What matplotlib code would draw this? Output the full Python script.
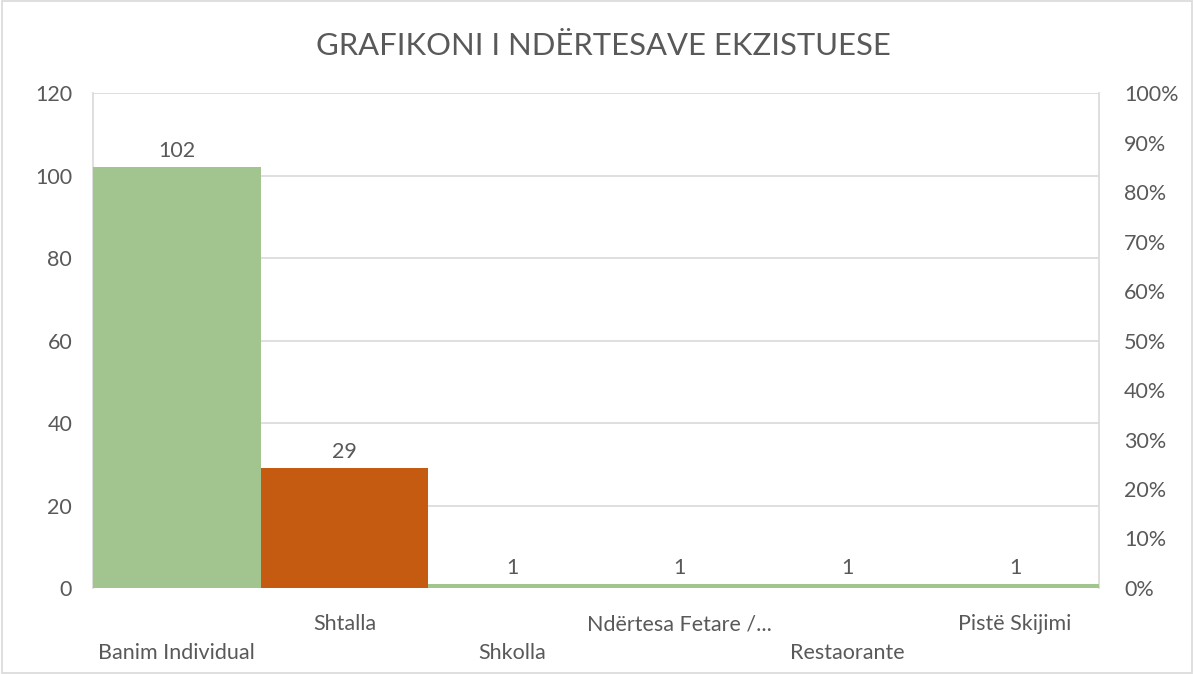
import matplotlib
matplotlib.use("Agg")
import matplotlib.pyplot as plt
from matplotlib.patches import Rectangle

categories = ["Banim Individual", "Shtalla", "Shkolla", "Ndërtesa Fetare /...", "Restaorante", "Pistë Skijimi"]
values = [102, 29, 1, 1, 1, 1]
bar_colors = ["#A2C48F", "#C55A11", "#A2C48F", "#A2C48F", "#A2C48F", "#A2C48F"]
left_ticks = [0, 20, 40, 60, 80, 100, 120]
right_ticks = [0, 10, 20, 30, 40, 50, 60, 70, 80, 90, 100]

plt.rcParams['font.family'] = ['Lato', 'DejaVu Sans']
txt = "#595959"
fs = 15.5

fig = plt.figure(figsize=(11.94, 6.74), dpi=100)
fig.patches.append(Rectangle((0.002, 0.002), 0.996, 0.996, transform=fig.transFigure,
                             fill=False, edgecolor="#D9D9D9", linewidth=1.2))
ax = fig.add_axes([0.0779, 0.1276, 0.8425, 0.7344])
x = list(range(len(categories)))
ax.bar(x, values, width=1.0, color=bar_colors, zorder=3)
for xi, v in zip(x, values):
    ax.text(xi, v + 1.5, str(v), ha="center", va="bottom", fontsize=fs, color=txt)

ax.set_xlim(-0.5, len(categories) - 0.5)
ax.set_ylim(0, 120)
ax.set_yticks(left_ticks)
ax.set_yticklabels([str(t) for t in left_ticks])
ax.tick_params(axis="y", length=0, labelsize=fs, labelcolor=txt, pad=15)
ax.grid(axis="y", color="#D9D9D9", linewidth=1.2, zorder=0)
for s in ["top", "bottom"]:
    ax.spines[s].set_visible(False)
for s in ["left", "right"]:
    ax.spines[s].set_color("#D9D9D9")
    ax.spines[s].set_linewidth(1.2)

ax.set_xticks(x)
ax.set_xticklabels([])
ax.tick_params(axis="x", length=0)
for xi, c in zip(x, categories):
    yoff = -0.112 if xi % 2 == 0 else -0.053
    ax.text(xi, yoff, c, transform=ax.get_xaxis_transform(), ha="center", va="top",
            fontsize=fs, color=txt)

ax2 = ax.twinx()
ax2.set_ylim(0, 100)
ax2.set_yticks(right_ticks)
ax2.set_yticklabels([f"{t}%" for t in right_ticks])
ax2.tick_params(axis="y", length=0, labelsize=fs, labelcolor=txt, pad=18)
for s in ax2.spines.values():
    s.set_visible(False)

fig.text(0.505, 0.932, "GRAFIKONI I NDËRTESAVE EKZISTUESE", ha="center", va="center",
         fontsize=22.3, color=txt)

fig.savefig("out.png", dpi=100)
